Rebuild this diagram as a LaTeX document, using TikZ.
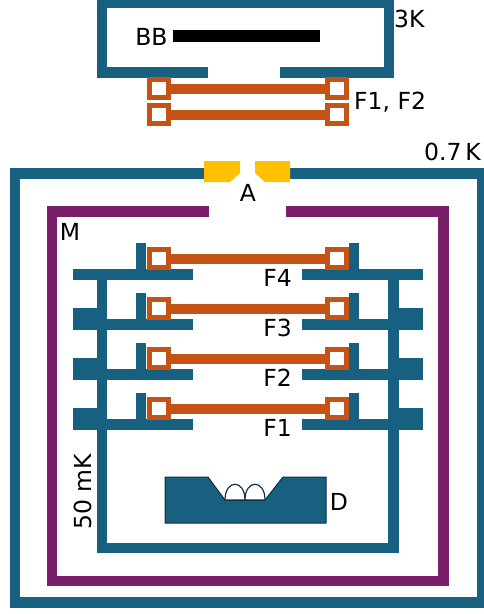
\documentclass[tikz,border=0pt]{standalone}
\usepackage{fontspec}
\setmainfont{DejaVu Sans}
\definecolor{cblue}{RGB}{23,96,127}
\definecolor{cpurple}{RGB}{122,30,106}
\definecolor{corange}{RGB}{197,83,22}
\definecolor{cyellow}{RGB}{255,192,0}
\definecolor{cdark}{RGB}{12,50,68}
\begin{document}
\begin{tikzpicture}[x=1pt,y=-1pt,
  wall/.style={draw=cblue,line width=10.5pt,miter limit=10},
  mwall/.style={draw=cpurple,line width=10.5pt,miter limit=10},
  plate/.style={fill=cblue},
  fsq/.style={draw=corange,line width=5pt,fill=white,minimum width=19pt,minimum height=18pt,inner sep=0pt},
  fbar/.style={draw=corange,line width=10pt},
  lbl/.style={font=\fontsize{23.5}{28}\selectfont,inner sep=0pt}]
\useasboundingbox (0,0) rectangle (483,614);
% 3K box
\draw[wall] (208,72.5) -- (102,72.5) -- (102,3) -- (389,3) -- (389,72.5) -- (280,72.5);
\fill[black] (173,30) rectangle (320,42);
\node[lbl] (bb) at (151.5,37) {BB};
\node[lbl,anchor=west] (k3) at (394,19) {3K};
% F1,F2 top filters
\node[fsq] (ta) at (158.5,88.5) {};
\node[fsq] (tb) at (336.5,88.5) {};
\node[fsq] (tc) at (158.5,114.5) {};
\node[fsq] (td) at (336.5,114.5) {};
\draw[fbar] (ta.east) -- (tb.west);
\draw[fbar] (tc.east) -- (td.west);
\node[lbl,anchor=west] (f12) at (354,102) {F1, F2};
% 0.7 K box
\draw[wall] (206,173.5) -- (15,173.5) -- (15,602.5) -- (482,602.5) -- (482,173.5) -- (288,173.5);
\fill[cyellow] (204,161) -- (240,161) -- (240,173) -- (230,182) -- (204,182) -- cycle;
\fill[cyellow] (255,161) -- (290,161) -- (290,182) -- (265,182) -- (255,173) -- cycle;
\node[lbl] (a) at (248,193) {A};
\node[lbl,anchor=east] (k07) at (481,152) {0.7\,K};
% M box
\draw[mwall] (209,211.5) -- (52,211.5) -- (52,581) -- (443.5,581) -- (443.5,211.5) -- (286,211.5);
\node[lbl] (m) at (70,232) {M};
% 50 mK box
\draw[wall] (102,276) -- (102,548) -- (393.5,548) -- (393.5,276);
\node[lbl,rotate=90] (mk) at (83,492) {50 mK};
% plates and filters
\foreach \i/\lab in {0/F4,1/F3,2/F2,3/F1}{
  \pgfmathsetmacro{\y}{269+50*\i}
  \fill[plate] (73,\y) rectangle (193,\y+11);
  \fill[plate] (302,\y) rectangle (423,\y+11);
  \fill[plate] (136,\y-26) rectangle (146,\y);
  \fill[plate] (349,\y-26) rectangle (359,\y);
  \ifnum\i>0
    \fill[plate] (73,\y-11) rectangle (100,\y+11);
    \fill[plate] (395,\y-11) rectangle (423,\y+11);
  \fi
  \node[fsq] (l\i) at (159,\y-10.5) {};
  \node[fsq] (r\i) at (337,\y-10.5) {};
  \draw[fbar] (l\i.east) -- (r\i.west);
  \node[lbl] (t\i) at (277.5,\y+9) {\lab};
}
% detector
\filldraw[fill=cblue,draw=cdark,line width=1pt] (165,477) -- (208,477) -- (225,500) -- (265,500) -- (283,477) -- (326,477) -- (326,523) -- (165,523) -- cycle;
\filldraw[fill=white,draw=cdark,line width=1.2pt] (225,500) .. controls (225,479) and (245,479) .. (245,500) -- cycle;
\filldraw[fill=white,draw=cdark,line width=1.2pt] (245,500) .. controls (245,479) and (265,479) .. (265,500) -- cycle;
\node[lbl] (d) at (339,502) {D};
\end{tikzpicture}
\end{document}
